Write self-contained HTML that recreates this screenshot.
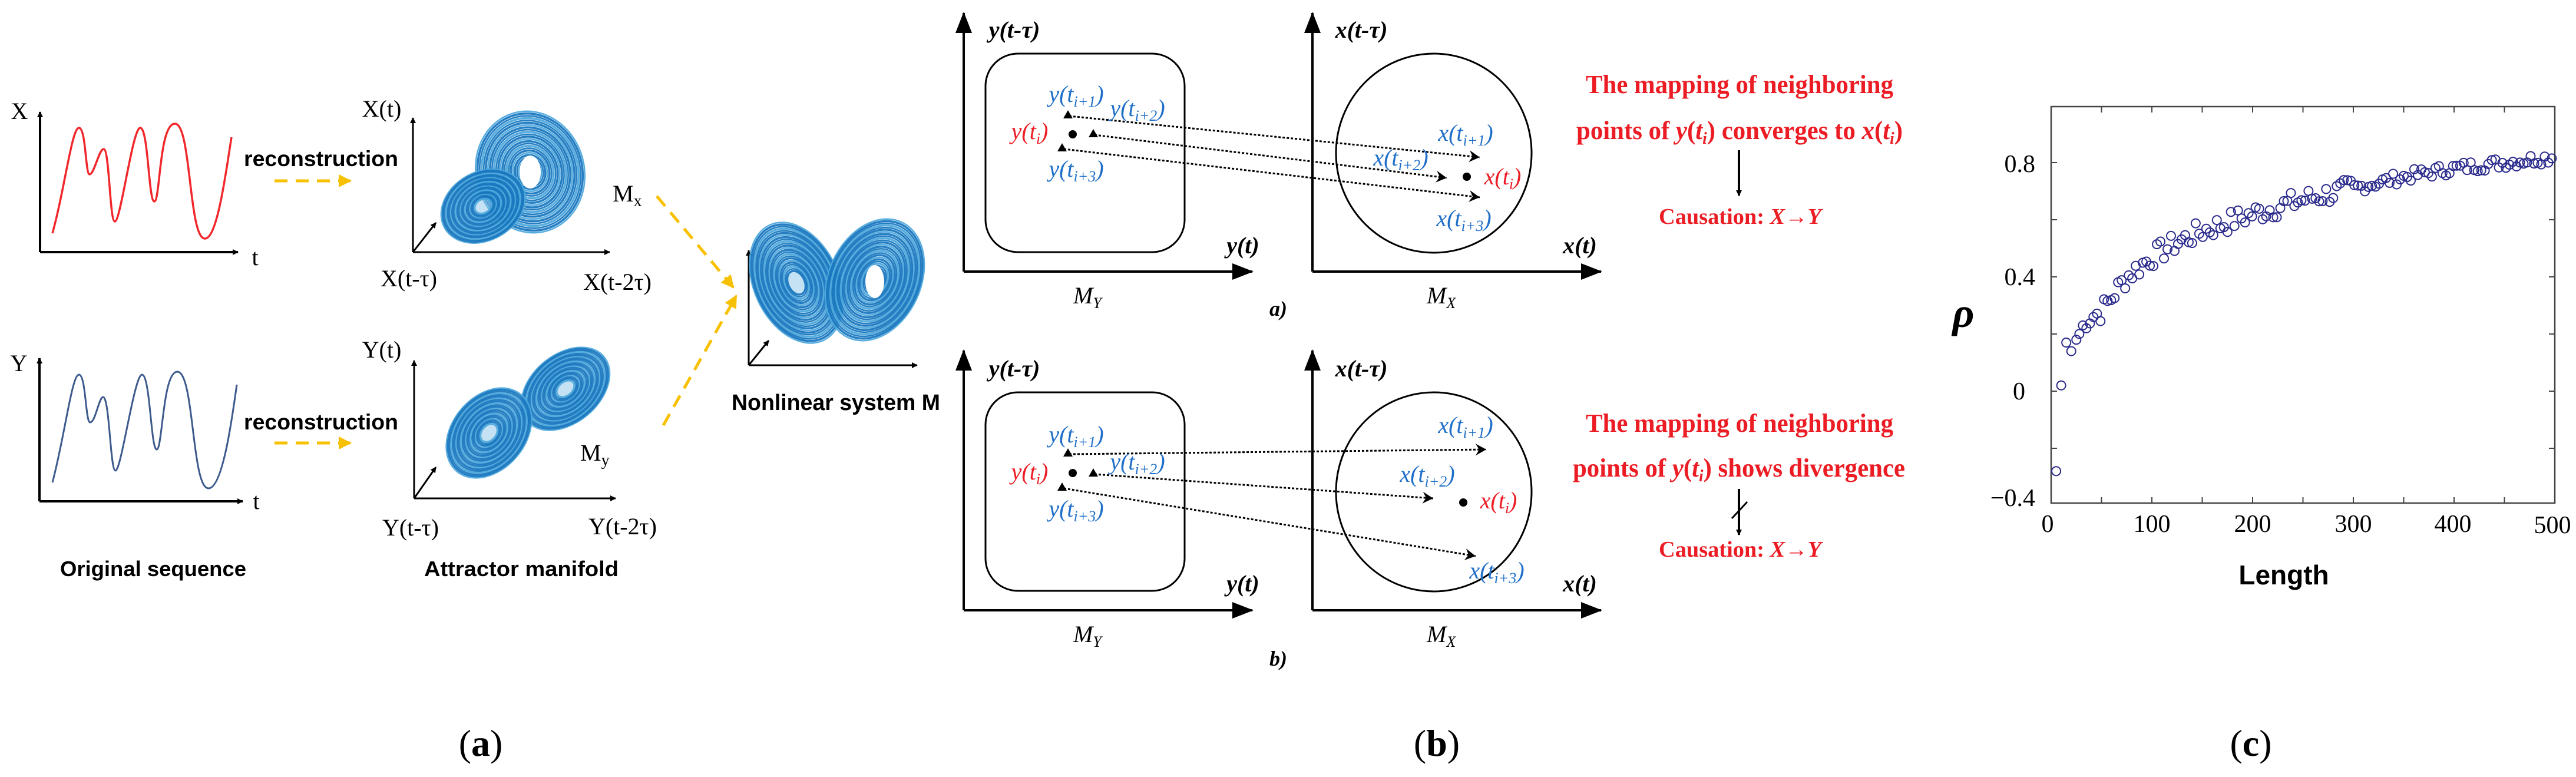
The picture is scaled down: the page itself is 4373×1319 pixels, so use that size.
<!DOCTYPE html>
<html><head><meta charset="utf-8"><style>
html,body{margin:0;padding:0;background:#fff;}
svg{display:block;}
.ser{font-family:"Liberation Serif",serif;}
.san{font-family:"Liberation Sans",sans-serif;}
.bl{fill:#1f6fc9;}
.rd{fill:#ec1c24;}
</style></head><body>
<svg id="s" xmlns="http://www.w3.org/2000/svg" width="4373" height="1319" viewBox="0 0 4373 1319">
<defs>
<marker id="ah" markerWidth="10" markerHeight="10" refX="9" refY="5" orient="auto" markerUnits="userSpaceOnUse" viewBox="0 0 10 10"><path d="M0,0 L10,5 L0,10 z" fill="#000"/></marker>
<marker id="big" markerWidth="36" markerHeight="28" refX="34" refY="14" orient="auto" markerUnits="userSpaceOnUse" viewBox="0 0 36 28"><path d="M0,0 L36,14 L0,28 z" fill="#000"/></marker>
<marker id="op" markerWidth="22" markerHeight="22" refX="20" refY="11" orient="auto" markerUnits="userSpaceOnUse" viewBox="0 0 22 22"><path d="M2,1 L20,11 L2,21 L8,11 z" fill="#000"/></marker>
<marker id="ya" markerWidth="22" markerHeight="22" refX="20" refY="11" orient="auto" markerUnits="userSpaceOnUse" viewBox="0 0 22 22"><path d="M0,0 L22,11 L0,22 z" fill="#f7c000"/></marker>
</defs>

<g stroke="#000" stroke-width="4" fill="none">
<path d="M68,428 V190" marker-end="url(#ah)"/><path d="M68,428 H404" marker-end="url(#ah)"/>
<path d="M67,851 V608" marker-end="url(#ah)"/><path d="M67,851 H412" marker-end="url(#ah)"/>
<path d="M701,428 V200" marker-end="url(#ah)" stroke-width="3"/><path d="M701,428 H1035" marker-end="url(#ah)" stroke-width="3"/><path d="M701,428 L740,378" marker-end="url(#ah)" stroke-width="3"/>
<path d="M703,846 V612" marker-end="url(#ah)" stroke-width="3"/><path d="M703,846 H1045" marker-end="url(#ah)" stroke-width="3"/><path d="M703,846 L740,793" marker-end="url(#ah)" stroke-width="3"/>
<path d="M1271,620 V425" marker-end="url(#ah)" stroke-width="3"/><path d="M1271,620 H1557" marker-end="url(#ah)" stroke-width="3"/><path d="M1271,620 L1305,578" marker-end="url(#ah)" stroke-width="3"/>
</g>
<text class="ser" x="33" y="202" font-size="40" text-anchor="middle">X</text>
<text class="ser" x="433" y="450" font-size="40" text-anchor="middle">t</text>
<text class="ser" x="32" y="630" font-size="40" text-anchor="middle">Y</text>
<text class="ser" x="435" y="864" font-size="40" text-anchor="middle">t</text>
<path d="M89,396 C110,320 122,217 134,217 C146,217 145,296 152,296 C160,296 168,253 176,253 C186,253 186,376 195,376 C205,376 225,217 238,217 C252,217 252,342 262,342 C272,342 270,210 297,210 C325,210 320,405 348,405 C370,405 385,280 393,233" fill="none" stroke="#f0282c" stroke-width="3.5"/>
<path d="M89,819 C110,740 122,636 134,636 C146,636 145,717 153,717 C162,717 168,674 175,674 C186,674 187,799 196,799 C206,799 228,636 241,636 C255,636 256,763 266,763 C276,763 276,631 301,631 C330,631 325,829 354,829 C378,829 394,710 402,653" fill="none" stroke="#3d5a8c" stroke-width="3"/>
<text class="san" x="414" y="282" font-size="37" font-weight="bold" textLength="262" lengthAdjust="spacingAndGlyphs">reconstruction</text>
<text class="san" x="414" y="729" font-size="37" font-weight="bold" textLength="262" lengthAdjust="spacingAndGlyphs">reconstruction</text>
<path d="M466,307 H595" stroke="#f7c000" stroke-width="5" stroke-dasharray="22,14" marker-end="url(#ya)"/>
<path d="M466,752 H595" stroke="#f7c000" stroke-width="5" stroke-dasharray="22,14" marker-end="url(#ya)"/>
<path d="M1115,333 L1245,488" stroke="#f7c000" stroke-width="5" stroke-dasharray="22,14" marker-end="url(#ya)"/>
<path d="M1126,722 L1250,502" stroke="#f7c000" stroke-width="5" stroke-dasharray="22,14" marker-end="url(#ya)"/>
<text class="ser" x="648" y="198" font-size="40" text-anchor="middle">X(t)</text>
<text class="ser" x="694" y="486" font-size="40" text-anchor="middle">X(t-τ)</text>
<text class="ser" x="1048" y="492" font-size="40" text-anchor="middle">X(t-2τ)</text>
<text class="ser" x="1040" y="342" font-size="40">M<tspan font-size="28" dy="8">x</tspan></text>
<text class="ser" x="648" y="607" font-size="40" text-anchor="middle">Y(t)</text>
<text class="ser" x="697" y="909" font-size="40" text-anchor="middle">Y(t-τ)</text>
<text class="ser" x="1057" y="907" font-size="40" text-anchor="middle">Y(t-2τ)</text>
<text class="ser" x="985" y="782" font-size="40">M<tspan font-size="28" dy="8">y</tspan></text>
<g id="attr" fill="none"></g>
<text class="san" x="260" y="978" font-size="36" font-weight="bold" text-anchor="middle" textLength="316" lengthAdjust="spacingAndGlyphs">Original sequence</text>
<text class="san" x="885" y="978" font-size="36" font-weight="bold" text-anchor="middle" textLength="330" lengthAdjust="spacingAndGlyphs">Attractor manifold</text>
<text class="san" x="1419" y="696" font-size="38" font-weight="bold" text-anchor="middle" textLength="354" lengthAdjust="spacingAndGlyphs">Nonlinear system M</text>
<text class="ser" x="816" y="1283" font-size="64" text-anchor="middle">(<tspan font-weight="bold">a</tspan>)</text>

<g stroke="#000" stroke-width="4" fill="none">
<path d="M1636,461 V22" marker-end="url(#big)"/><path d="M1636,461 H2126" marker-end="url(#big)"/>
<path d="M2228,461 V22" marker-end="url(#big)"/><path d="M2228,461 H2718" marker-end="url(#big)"/>
<path d="M1636,1036 V595" marker-end="url(#big)"/><path d="M1636,1036 H2126" marker-end="url(#big)"/>
<path d="M2228,1036 V595" marker-end="url(#big)"/><path d="M2228,1036 H2718" marker-end="url(#big)"/>
<rect x="1673" y="91" width="338" height="337" rx="55" ry="55" stroke-width="3"/>
<rect x="1673" y="666" width="338" height="337" rx="55" ry="55" stroke-width="3"/>
<ellipse cx="2434" cy="260" rx="166" ry="169" stroke-width="3"/>
<ellipse cx="2434" cy="835" rx="166" ry="169" stroke-width="3"/>
</g>
<g class="ser" font-size="40" font-weight="bold" font-style="italic">
<text x="1722" y="64" text-anchor="middle">y(t-τ)</text>
<text x="2311" y="64" text-anchor="middle">x(t-τ)</text>
<text x="2110" y="430" text-anchor="middle">y(t)</text>
<text x="2682" y="430" text-anchor="middle">x(t)</text>
<text x="1722" y="639" text-anchor="middle">y(t-τ)</text>
<text x="2311" y="639" text-anchor="middle">x(t-τ)</text>
<text x="2110" y="1004" text-anchor="middle">y(t)</text>
<text x="2682" y="1004" text-anchor="middle">x(t)</text>
<text x="2170" y="536" text-anchor="middle" font-size="36">a)</text>
<text x="2170" y="1130" text-anchor="middle" font-size="36">b)</text>
</g>
<g class="ser" font-size="40" font-style="italic">
<text x="1822" y="515">M<tspan font-size="26" dy="8">Y</tspan></text>
<text x="2422" y="515">M<tspan font-size="26" dy="8">X</tspan></text>
<text x="1822" y="1090">M<tspan font-size="26" dy="8">Y</tspan></text>
<text x="2422" y="1090">M<tspan font-size="26" dy="8">X</tspan></text>
</g>
<g stroke="#000" stroke-width="3" stroke-dasharray="4,3" fill="none">
<path d="M1815,197 L2512,267" marker-end="url(#op)"/>
<path d="M1858,229 L2456,302" marker-end="url(#op)"/>
<path d="M1806,253 L2512,335" marker-end="url(#op)"/>
<path d="M1815,771 L2523,763" marker-end="url(#op)"/>
<path d="M1858,805 L2433,846" marker-end="url(#op)"/>
<path d="M1806,829 L2505,944" marker-end="url(#op)"/>
</g>
<g fill="#000">
<path d="M1813,187 l-8,14 h16z"/><path d="M1856,219 l-8,14 h16z"/><path d="M1803,243 l-8,14 h16z"/>
<circle cx="1821" cy="228" r="7"/><circle cx="2490" cy="300" r="7"/>
<path d="M1813,761 l-8,14 h16z"/><path d="M1856,795 l-8,14 h16z"/><path d="M1803,819 l-8,14 h16z"/>
<circle cx="1821" cy="803" r="7"/><circle cx="2484" cy="853" r="7"/>
</g>
<g class="ser" font-size="40" font-style="italic" text-anchor="middle">
<text class="bl" x="1827" y="173">y(t<tspan font-size="26" dy="8">i+1</tspan><tspan dy="-8">)</tspan></text>
<text class="bl" x="1931" y="197">y(t<tspan font-size="26" dy="8">i+2</tspan><tspan dy="-8">)</tspan></text>
<text class="rd" x="1748" y="236">y(t<tspan font-size="26" dy="8">i</tspan><tspan dy="-8">)</tspan></text>
<text class="bl" x="1827" y="300">y(t<tspan font-size="26" dy="8">i+3</tspan><tspan dy="-8">)</tspan></text>
<text class="bl" x="2488" y="239">x(t<tspan font-size="26" dy="8">i+1</tspan><tspan dy="-8">)</tspan></text>
<text class="bl" x="2378" y="281">x(t<tspan font-size="26" dy="8">i+2</tspan><tspan dy="-8">)</tspan></text>
<text class="rd" x="2551" y="313">x(t<tspan font-size="26" dy="8">i</tspan><tspan dy="-8">)</tspan></text>
<text class="bl" x="2485" y="384">x(t<tspan font-size="26" dy="8">i+3</tspan><tspan dy="-8">)</tspan></text>
<text class="bl" x="1827" y="751">y(t<tspan font-size="26" dy="8">i+1</tspan><tspan dy="-8">)</tspan></text>
<text class="bl" x="1931" y="797">y(t<tspan font-size="26" dy="8">i+2</tspan><tspan dy="-8">)</tspan></text>
<text class="rd" x="1748" y="814">y(t<tspan font-size="26" dy="8">i</tspan><tspan dy="-8">)</tspan></text>
<text class="bl" x="1827" y="877">y(t<tspan font-size="26" dy="8">i+3</tspan><tspan dy="-8">)</tspan></text>
<text class="bl" x="2488" y="735">x(t<tspan font-size="26" dy="8">i+1</tspan><tspan dy="-8">)</tspan></text>
<text class="bl" x="2423" y="818">x(t<tspan font-size="26" dy="8">i+2</tspan><tspan dy="-8">)</tspan></text>
<text class="rd" x="2544" y="863">x(t<tspan font-size="26" dy="8">i</tspan><tspan dy="-8">)</tspan></text>
<text class="bl" x="2541" y="982">x(t<tspan font-size="26" dy="8">i+3</tspan><tspan dy="-8">)</tspan></text>
</g>
<g class="ser rd" font-weight="bold" font-size="44">
<text x="2692" y="158" textLength="522" lengthAdjust="spacingAndGlyphs">The mapping of neighboring</text>
<text x="2676" y="236" textLength="554" lengthAdjust="spacingAndGlyphs">points of <tspan font-style="italic">y</tspan>(<tspan font-style="italic">t</tspan><tspan font-size="28" dy="8" font-style="italic">i</tspan><tspan dy="-8">) converges to </tspan><tspan font-style="italic">x</tspan>(<tspan font-style="italic">t</tspan><tspan font-size="28" dy="8" font-style="italic">i</tspan><tspan dy="-8">)</tspan></text>
<text x="2816" y="380" font-size="38" textLength="276" lengthAdjust="spacingAndGlyphs">Causation: <tspan font-style="italic">X</tspan>→<tspan font-style="italic">Y</tspan></text>
<text x="2692" y="733" textLength="522" lengthAdjust="spacingAndGlyphs">The mapping of neighboring</text>
<text x="2670" y="809" textLength="564" lengthAdjust="spacingAndGlyphs">points of <tspan font-style="italic">y</tspan>(<tspan font-style="italic">t</tspan><tspan font-size="28" dy="8" font-style="italic">i</tspan><tspan dy="-8">) shows divergence</tspan></text>
<text x="2816" y="945" font-size="38" textLength="276" lengthAdjust="spacingAndGlyphs">Causation: <tspan font-style="italic">X</tspan>→<tspan font-style="italic">Y</tspan></text>
</g>
<g stroke="#000" stroke-width="4" fill="none">
<path d="M2952,255 V332" marker-end="url(#ah)"/>
<path d="M2952,830 V908" marker-end="url(#ah)"/>
<path d="M2940,880 L2966,852" stroke-width="3"/>
</g>
<text class="ser" x="2439" y="1283" font-size="64" text-anchor="middle">(<tspan font-weight="bold">b</tspan>)</text>

<rect x="3482" y="181" width="855" height="673" fill="none" stroke="#444" stroke-width="2.5"/>
<g id="ticks" stroke="#444" stroke-width="2"></g>
<g class="ser" font-size="42" text-anchor="end">
<text x="3455" y="292">0.8</text>
<text x="3455" y="484">0.4</text>
<text x="3438" y="678">0</text>
<text x="3455" y="859">−0.4</text>
</g>
<g class="ser" font-size="42" text-anchor="middle">
<text x="3476" y="903">0</text>
<text x="3653" y="903">100</text>
<text x="3824" y="903">200</text>
<text x="3995" y="903">300</text>
<text x="4164" y="903">400</text>
<text x="4333" y="905">500</text>
</g>
<text class="ser" x="3333" y="555" font-size="72" font-weight="bold" font-style="italic" text-anchor="middle">ρ</text>
<text class="san" x="3877" y="992" font-size="46" font-weight="bold" text-anchor="middle">Length</text>
<g id="pts" fill="none" stroke="#2a2a8c" stroke-width="2"></g>
<text class="ser" x="3821" y="1283" font-size="64" text-anchor="middle">(<tspan font-weight="bold">c</tspan>)</text>
</svg>
<script>
var NS="http://www.w3.org/2000/svg";
function el(p,t,a){var e=document.createElementNS(NS,t);for(var k in a)e.setAttribute(k,a[k]);p.appendChild(e);return e;}
var g=document.getElementById("attr");
function lobe(cx,cy,rx,ry,rot,n,shrink){
 el(g,"ellipse",{cx:cx,cy:cy,rx:rx,ry:ry,transform:"rotate("+rot+" "+cx+" "+cy+")",fill:"#8cc6ea","fill-opacity":0.5});
 for(var i=0;i<n;i++){var f=1-i*shrink;
  el(g,"ellipse",{cx:cx,cy:cy,rx:rx*f,ry:ry*f,transform:"rotate("+rot+" "+cx+" "+cy+")",stroke:i%3==0?"#4aa6dc":"#1473bd","stroke-width":i%2?3.5:2.5,"stroke-opacity":0.9});}
}
lobe(900,292,92,104,-15,22,0.038);
lobe(820,350,75,58,-30,22,0.038);
lobe(960,660,85,58,-40,22,0.038);
lobe(830,735,85,62,-50,22,0.038);
lobe(1352,480,72,108,-25,24,0.035);
lobe(1485,475,78,108,25,24,0.035);
el(g,"ellipse",{cx:900,cy:292,rx:18,ry:28,fill:"#fff"});
el(g,"ellipse",{cx:1485,cy:478,rx:16,ry:28,fill:"#fff"});
var t=document.getElementById("ticks");
[0.8,0.6,0.4,0.2,0,-0.2].forEach(function(v){var y=664-v*485;el(t,"line",{x1:3482,y1:y,x2:3492,y2:y});el(t,"line",{x1:4327,y1:y,x2:4337,y2:y});});
for(var L=50;L<500;L+=50){var x=3482+L*1.71;el(t,"line",{x1:x,y1:854,x2:x,y2:844});el(t,"line",{x1:x,y1:181,x2:x,y2:191});}
var P=document.getElementById("pts");
var tab=[[5,-0.28],[10,0.02],[15,0.17],[20,0.14],[25,0.18],[35,0.25],[50,0.28],[75,0.4],[100,0.47],[125,0.52],[150,0.56],[200,0.62],[250,0.67],[300,0.71],[350,0.75],[400,0.78],[450,0.8],[500,0.82]];
function f(L){for(var i=0;i<tab.length-1;i++){if(L<=tab[i+1][0]){var a=tab[i],b=tab[i+1];return a[1]+(b[1]-a[1])*(L-a[0])/(b[0]-a[0]);}}return 0.82;}
var seed=7;function rnd(){seed=(seed*9301+49297)%233280;return seed/233280;}
var Ls=[5,10,15,20,25];for(var L=28;L<=500;L+=3.5)Ls.push(L);
Ls.forEach(function(L){var v=f(L);if(L>25)v+=(rnd()-0.5)*0.06*(L<300?1.3:0.7);
 el(P,"circle",{cx:3482+L*1.71,cy:664-v*485,r:7.5});});
</script>
</body></html>
